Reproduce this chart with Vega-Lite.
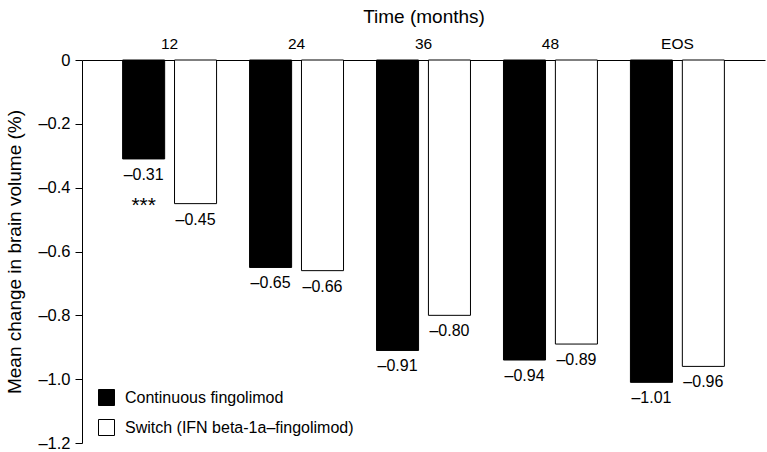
{
  "$schema": "https://vega.github.io/schema/vega-lite/v6.json",
  "autosize": "none",
  "width": 683,
  "height": 383,
  "padding": {"left": 82, "top": 60, "right": 2, "bottom": 9},
  "background": "white",
  "config": {
    "view": {"stroke": null},
    "font": "Liberation Sans",
    "axis": {"labelFont": "Liberation Sans", "titleFont": "Liberation Sans", "labelColor": "black", "titleColor": "black", "domainColor": "black", "tickColor": "black", "titleFontWeight": "normal", "grid": false},
    "legend": {"labelFont": "Liberation Sans", "labelColor": "black"}
  },
  "data": {
    "values": [
      {"time": "12", "group": "Continuous fingolimod", "value": -0.31, "note": "***"},
      {"time": "12", "group": "Switch (IFN beta-1a\u2013fingolimod)", "value": -0.45, "note": ""},
      {"time": "24", "group": "Continuous fingolimod", "value": -0.65, "note": ""},
      {"time": "24", "group": "Switch (IFN beta-1a\u2013fingolimod)", "value": -0.66, "note": ""},
      {"time": "36", "group": "Continuous fingolimod", "value": -0.91, "note": ""},
      {"time": "36", "group": "Switch (IFN beta-1a\u2013fingolimod)", "value": -0.80, "note": ""},
      {"time": "48", "group": "Continuous fingolimod", "value": -0.94, "note": ""},
      {"time": "48", "group": "Switch (IFN beta-1a\u2013fingolimod)", "value": -0.89, "note": ""},
      {"time": "EOS", "group": "Continuous fingolimod", "value": -1.01, "note": ""},
      {"time": "EOS", "group": "Switch (IFN beta-1a\u2013fingolimod)", "value": -0.96, "note": ""}
    ]
  },
  "transform": [
    {"calculate": "'\u2013' + format(abs(datum.value), '.2f')", "as": "label"}
  ],
  "encoding": {
    "x": {
      "field": "time", "type": "nominal", "sort": ["12", "24", "36", "48", "EOS"],
      "scale": {"paddingInner": 0.26, "paddingOuter": 0.32},
      "axis": {"orient": "top", "title": "Time (months)", "titleFontSize": 19, "titlePadding": 10, "labelFontSize": 15.5, "labelAngle": 0, "ticks": false, "labelPadding": 9, "domainWidth": 1}
    },
    "xOffset": {
      "field": "group", "type": "nominal",
      "sort": ["Continuous fingolimod", "Switch (IFN beta-1a\u2013fingolimod)"],
      "scale": {"paddingInner": 0.19}
    }
  },
  "layer": [
    {
      "mark": {"type": "bar", "stroke": "black", "strokeWidth": 1},
      "encoding": {
        "y": {
          "field": "value", "type": "quantitative",
          "scale": {"domain": [-1.2, 0], "nice": false},
          "axis": {
            "title": "Mean change in brain volume (%)", "titleFontSize": 19, "titlePadding": 13,
            "values": [0, -0.2, -0.4, -0.6, -0.8, -1.0, -1.2],
            "labelExpr": "datum.value == 0 ? '0' : '\u2013' + format(abs(datum.value), '.1f')",
            "labelFontSize": 16.5, "tickSize": 7, "labelPadding": 5
          }
        },
        "fill": {
          "field": "group", "type": "nominal",
          "sort": ["Continuous fingolimod", "Switch (IFN beta-1a\u2013fingolimod)"],
          "scale": {"range": ["black", "white"]},
          "legend": {
            "title": null, "orient": "none", "legendX": 16, "legendY": 329,
            "symbolType": "square", "symbolSize": 256, "symbolStrokeColor": "black", "symbolStrokeWidth": 1,
            "labelFontSize": 16, "rowPadding": 9, "labelOffset": 10, "labelLimit": 0
          }
        }
      }
    },
    {
      "mark": {"type": "text", "baseline": "top", "dy": 8, "fontSize": 16, "color": "black"},
      "encoding": {
        "y": {"field": "value", "type": "quantitative"},
        "text": {"field": "label"}
      }
    },
    {
      "mark": {"type": "text", "baseline": "top", "dy": 36, "fontSize": 21, "color": "black"},
      "encoding": {
        "y": {"field": "value", "type": "quantitative"},
        "text": {"field": "note"}
      }
    }
  ]
}
